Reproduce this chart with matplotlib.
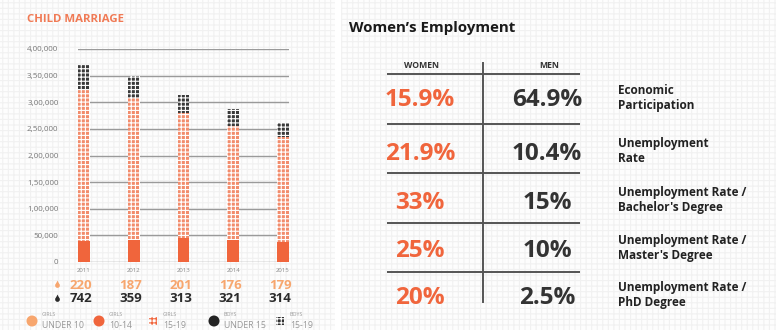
import numpy as np
import matplotlib
matplotlib.use('Agg')
import matplotlib.pyplot as plt
from matplotlib import font_manager as fm
from matplotlib.patches import Rectangle, Circle

# pick a sans family that actually has a bold face installed
bold_family = 'DejaVu Sans'
for cand in ['Open Sans', 'Noto Sans', 'Roboto', 'Lato', 'Liberation Sans']:
    ws = [f.weight for f in fm.fontManager.ttflist if f.name == cand]
    ws = [w if isinstance(w, int) else fm.weight_dict.get(w, 400) for w in ws]
    if any(w >= 600 for w in ws):
        bold_family = cand
        break
plt.rcParams['font.family'] = [bold_family, 'DejaVu Sans']
plt.rcParams['hatch.linewidth'] = 0.8

# --- data: child marriage ---
years = ['2011', '2012', '2013', '2014', '2015']
girls_10_14 = [40000, 41000, 45000, 41000, 38000]
girls_15_19 = [283000, 267000, 235000, 214000, 197000]
boys_15_19 = [47000, 41000, 34000, 32000, 26000]
girls_under_10 = [220, 187, 201, 176, 179]
boys_under_15 = [742, 359, 313, 321, 314]
y_ticks = [0, 50000, 100000, 150000, 200000, 250000, 300000, 350000, 400000]
y_labels = ['0', '50,000', '1,00,000', '1,50,000', '2,00,000',
            '2,50,000', '3,00,000', '3,50,000', '4,00,000']
legend_top = ['GIRLS', 'GIRLS', 'GIRLS', 'BOYS', 'BOYS']
legend_bot = ['UNDER 10', '10-14', '15-19', 'UNDER 15', '15-19']

# --- data: women's employment ---
emp_women = ['15.9%', '21.9%', '33%', '25%', '20%']
emp_men = ['64.9%', '10.4%', '15%', '10%', '2.5%']
emp_labels = ['Economic\nParticipation', 'Unemployment\nRate',
              "Unemployment Rate /\nBachelor's Degree",
              "Unemployment Rate /\nMaster's Degree",
              'Unemployment Rate /\nPhD Degree']

orange = '#f0653c'
light_orange = '#f7a66e'
hatch_orange = '#f28c6c'
dark = '#2b2b2b'

W, H = 783, 333
fig = plt.figure(figsize=(W / 100, H / 100), dpi=100)
fig.patch.set_facecolor('white')

# background canvas in pixel coordinates
bg = fig.add_axes([0, 0, 1, 1])
bg.set_xlim(0, W)
bg.set_ylim(H, 0)
bg.axis('off')
bg.set_zorder(0)

for x0, x1 in [(0, 335), (341, 776)]:
    bg.add_patch(Rectangle((x0, 0), x1 - x0, 330, facecolor='#fdfdfd',
                           edgecolor='#f1f1f1', hatch='+++', linewidth=0))

# --- left chart ---
ax = fig.add_axes([78 / W, (H - 262) / H, 211 / W, 213 / H])
ax.set_zorder(1)
ax.patch.set_alpha(0)
x = np.arange(len(years))
bw = 0.24
ax.bar(x, girls_10_14, width=bw, color=orange, linewidth=0)
ax.bar(x, girls_15_19, width=bw, bottom=girls_10_14, color=hatch_orange,
       edgecolor='white', hatch='++++', linewidth=0)
bottom2 = np.array(girls_10_14) + np.array(girls_15_19)
ax.bar(x, boys_15_19, width=bw, bottom=bottom2, color='#3a3a3a',
       edgecolor='white', hatch='++++', linewidth=0)
ax.set_xlim(-bw / 2, len(years) - 1 + bw / 2)
ax.set_ylim(0, 400000)
ax.set_yticks(y_ticks)
ax.set_yticklabels(y_labels)
ax.set_xticks(x)
ax.set_xticklabels(years)
ax.tick_params(axis='y', length=0, pad=14, labelsize=5.8, labelcolor='#777777')
ax.tick_params(axis='x', length=0, pad=4, labelsize=4.3, labelcolor='#888888')
ax.yaxis.grid(True, color='#9a9a9a', linewidth=1.0)
ax.set_axisbelow(True)
for s in ax.spines.values():
    s.set_visible(False)

tr = ax.get_xaxis_transform()
for i in range(len(years)):
    ax.text(i - 0.06, -0.108, str(girls_under_10[i]), transform=tr,
            ha='center', va='center', fontsize=9.5, fontweight='bold',
            color=light_orange)
    ax.text(i - 0.06, -0.170, str(boys_under_15[i]), transform=tr,
            ha='center', va='center', fontsize=9.5, fontweight='bold',
            color=dark)

# drop icons
bg.plot(57, 285, marker='o', ms=3.4, color=light_orange, mec='none')
bg.plot(57, 282, marker='^', ms=2.8, color=light_orange, mec='none')
bg.plot(57, 299, marker='o', ms=3.4, color=dark, mec='none')
bg.plot(57, 296, marker='^', ms=2.8, color=dark, mec='none')

bg.text(27, 20, 'CHILD MARRIAGE', fontsize=8.2, fontweight='bold',
        color='#f07a55', va='center', ha='left')

# legend
icon_x = [32, 99, 153, 214, 280]
for k in range(5):
    cx = icon_x[k]
    if k == 0:
        bg.add_patch(Circle((cx, 321), 5.5, color=light_orange, lw=0))
    elif k == 1:
        bg.add_patch(Circle((cx, 321), 5.5, color=orange, lw=0))
    elif k == 2:
        bg.add_patch(Rectangle((cx - 4, 317), 8, 8, facecolor='white',
                               edgecolor=orange, hatch='++++', lw=0))
    elif k == 3:
        bg.add_patch(Circle((cx, 321), 5.5, color='#222222', lw=0))
    else:
        bg.add_patch(Rectangle((cx - 4, 317), 8, 8, facecolor='#333333',
                               edgecolor='white', hatch='++++', lw=0))
    bg.text(cx + 10, 315, legend_top[k], fontsize=3.8, color='#999999',
            va='center', ha='left')
    bg.text(cx + 10, 326, legend_bot[k], fontsize=6.3, color='#999999',
            va='center', ha='left')

# --- right panel: women's employment table ---
bg.text(349, 28, "Women’s Employment", fontsize=10.8, fontweight='bold',
        color='#1a1a1a', va='center', ha='left')
bg.text(421, 65, 'WOMEN', fontsize=6.2, fontweight='bold', color='#333333',
        ha='center', va='center')
bg.text(549, 65, 'MEN', fontsize=6.2, fontweight='bold', color='#333333',
        ha='center', va='center')

line_y = [74, 124, 173, 223, 272]
for ly in line_y:
    bg.plot([387, 580], [ly, ly], color='#555555', lw=1.4,
            solid_capstyle='butt')
bg.plot([483, 483], [63, 302], color='#555555', lw=1.4)

val_y = [100, 154, 203, 251, 298]
lab_y = [98, 151, 200, 248, 295]
for i in range(len(emp_women)):
    bg.text(420, val_y[i], emp_women[i], fontsize=17.5, fontweight='bold',
            color=orange, ha='center', va='center')
    bg.text(547, val_y[i], emp_men[i], fontsize=17.5, fontweight='bold',
            color='#333333', ha='center', va='center')
    bg.text(618, lab_y[i], emp_labels[i], fontsize=8.5, fontweight='bold',
            color='#222222', ha='left', va='center', linespacing=1.2)

fig.savefig('out.png', dpi=100)
